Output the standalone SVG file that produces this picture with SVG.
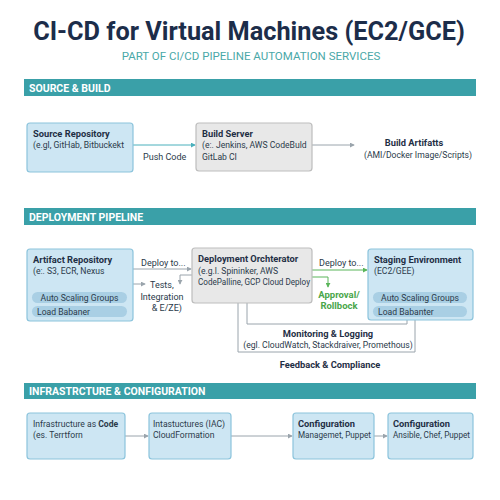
<svg xmlns="http://www.w3.org/2000/svg" width="500" height="500" viewBox="0 0 500 500">
<defs>
<style>
text{font-family:Roboto,"Liberation Sans",sans-serif;fill:#2b3a4a}
.title{font-size:25.3px;font-weight:bold;fill:#1c2d4a}
.sub{font-size:11.5px;fill:#4aa8a8}
.bar{fill:#3aa0a8}
.bartxt{font-size:10.5px;font-weight:bold;fill:#ffffff}
.bl{fill:#cde6f3;stroke:#8cc4dc;stroke-width:1.2}
.gr{fill:#e8e8e8;stroke:#bdbdbd;stroke-width:1.2}
.pill{fill:#a9cfe4;stroke:none}
.h{font-size:9.3px;font-weight:bold;fill:#1f2f45}
.t{font-size:8.6px}
.lbl{font-size:9px}
.g{font-size:9.5px;font-weight:bold;fill:#4aa64a}
.ln{fill:none;stroke:#9aa4ac;stroke-width:1}
.lnt{fill:none;stroke:#4ab0bc;stroke-width:1}
.lng{fill:none;stroke:#5ab55a;stroke-width:1}
</style>
<marker id="ag" viewBox="0 0 6 6" refX="5" refY="3" markerWidth="5" markerHeight="5" orient="auto"><path d="M0,0L6,3L0,6z" fill="#9aa4ac"/></marker>
<marker id="at" viewBox="0 0 6 6" refX="5" refY="3" markerWidth="5" markerHeight="5" orient="auto"><path d="M0,0L6,3L0,6z" fill="#4ab0bc"/></marker>
<marker id="agr" viewBox="0 0 6 6" refX="5" refY="3" markerWidth="5" markerHeight="5" orient="auto"><path d="M0,0L6,3L0,6z" fill="#5ab55a"/></marker>
</defs>
<rect width="500" height="500" fill="#ffffff"/>
<text class="title" x="249" y="40" text-anchor="middle">CI-CD for Virtual Machines (EC2/GCE)</text>
<text class="sub" x="251" y="60" text-anchor="middle">PART OF CI/CD PIPELINE AUTOMATION SERVICES</text>

<g id="sec1"><rect class="bar" x="24" y="79" width="452" height="17"/><text class="bartxt" x="29" y="91.5">SOURCE &amp; BUILD</text></g>
<g id="sec2"><rect class="bar" x="24" y="208" width="452" height="17"/><text class="bartxt" x="29" y="220.5">DEPLOYMENT PIPELINE</text></g>
<g id="sec3"><rect class="bar" x="24" y="383" width="452" height="16"/><text class="bartxt" x="29" y="395">INFRASTRCTURE &amp; CONFIGURATION</text></g>

<g id="connectors">
<line class="lnt" x1="133" y1="145" x2="195" y2="145" marker-end="url(#at)"/>
<line class="ln" x1="312" y1="145" x2="354" y2="145" marker-end="url(#ag)"/>
<line class="ln" x1="133" y1="269" x2="191" y2="269" marker-end="url(#ag)"/>
<line class="ln" x1="133" y1="284" x2="145" y2="284" marker-end="url(#ag)"/>
<polyline class="ln" points="192,275 180,275 180,284" marker-end="url(#ag)"/>
<line class="lng" x1="312" y1="270" x2="367" y2="270" marker-end="url(#agr)"/>
<polyline class="lng" points="312,277 328,277 328,287" marker-end="url(#agr)"/>
<polyline class="ln" points="415,317 415,352 238,352 238,298" marker-end="url(#ag)"/>
<polyline class="ln" points="407,320 407,324 247,324 247,298" marker-end="url(#agr)"/>
<line class="ln" x1="125" y1="436" x2="148" y2="436" marker-end="url(#ag)"/>
<line class="ln" x1="231" y1="436" x2="292" y2="436" marker-end="url(#ag)"/>
<line class="ln" x1="374" y1="436" x2="387" y2="436" marker-end="url(#ag)"/>
</g>

<text class="lbl" x="143" y="160">Push Code</text>
<text class="lbl" x="141" y="266">Deploy to...</text>
<text class="lbl" x="150" y="288">Tests,</text>
<text class="lbl" x="162" y="300" text-anchor="middle">Integration</text>
<text class="lbl" x="182" y="311" text-anchor="end">&amp; E/ZE)</text>
<text class="lbl" x="319" y="266">Deploy to...</text>
<text class="g" x="339" y="298" text-anchor="middle">Approval/</text>
<text class="g" x="339" y="309" text-anchor="middle">Rollbock</text>

<g id="source"><rect class="bl" x="27" y="123" width="106" height="49" rx="3"/><text class="h" x="33" y="137">Source Repository</text><text class="t" x="33" y="148">(e.gl, GitHab, Bitbuckekt</text></g>
<g id="build"><rect class="gr" x="196" y="123" width="116" height="48" rx="3"/><text class="h" x="202" y="137">Build Server</text><text class="t" x="202" y="148">(e:. Jenkins, AWS CodeBuld</text><text class="t" x="202" y="160">GitLab CI</text></g>
<g id="artifacts"><text class="h" x="414" y="146" text-anchor="middle">Build Artifatts</text><text class="t" x="418" y="158" text-anchor="middle">(AMI/Docker Image/Scripts)</text></g>

<g id="artrepo"><rect class="bl" x="27" y="249" width="106" height="72" rx="3"/><text class="h" x="33" y="263">Artifact Repository</text><text class="t" x="33" y="274">(e:. S3, ECR, Nexus</text>
<rect class="pill" x="32" y="292" width="95" height="11" rx="5.5"/><text class="t" x="79.5" y="300.8" text-anchor="middle">Auto Scaling Groups</text>
<rect class="pill" x="32" y="306" width="95" height="11" rx="5.5"/><text class="t" x="37" y="314.8">Load Babaner</text></g>
<g id="orch"><rect class="gr" x="192" y="248" width="120" height="55" rx="3"/><text class="h" x="198" y="262">Deployment Orchterator</text><text class="t" x="198" y="274">(e.g.l. Spininker, AWS</text><text class="t" x="198" y="285" textLength="112" lengthAdjust="spacingAndGlyphs">CodePalline, GCP Cloud Deploy</text></g>
<g id="staging"><rect class="bl" x="368" y="249" width="105" height="71" rx="3"/><text class="h" x="374" y="263">Staging Environment</text><text class="t" x="374" y="274">(EC2/GEE)</text>
<rect class="pill" x="373" y="292" width="94" height="11" rx="5.5"/><text class="t" x="420" y="300.8" text-anchor="middle">Auto Scaling Groups</text>
<rect class="pill" x="373" y="306" width="94" height="11" rx="5.5"/><text class="t" x="378" y="314.8">Load Babanter</text></g>
<g id="monitor"><text class="h" x="328" y="337" text-anchor="middle">Monitoring &amp; Logging</text><text class="t" x="328" y="348" text-anchor="middle">(egl. CloudWatch, Stackdraiver, Promethous)</text></g>
<g id="feedback"><text class="h" x="330" y="368" text-anchor="middle">Feedback &amp; Compliance</text></g>

<g id="iac"><rect class="bl" x="27" y="413" width="98" height="46" rx="3"/><text class="t" x="33" y="427">Infrastructure as <tspan font-weight="bold">Code</tspan></text><text class="t" x="33" y="438">(es. Terrtforn</text></g>
<g id="iac2"><rect class="bl" x="149" y="413" width="82" height="46" rx="3"/><text class="t" x="153" y="427">Intastuctures (IAC)</text><text class="t" x="153" y="438">CloudFormation</text></g>
<g id="cfg1"><rect class="bl" x="293" y="413" width="81" height="46" rx="3"/><text class="h" x="298" y="427">Configuration</text><text class="t" x="298" y="438" textLength="73" lengthAdjust="spacingAndGlyphs">Managemet, Puppet</text></g>
<g id="cfg2"><rect class="bl" x="388" y="413" width="85" height="46" rx="3"/><text class="h" x="393" y="427">Configuration</text><text class="t" x="393" y="438" textLength="77" lengthAdjust="spacingAndGlyphs">Ansible, Chef, Puppet</text></g>
</svg>
